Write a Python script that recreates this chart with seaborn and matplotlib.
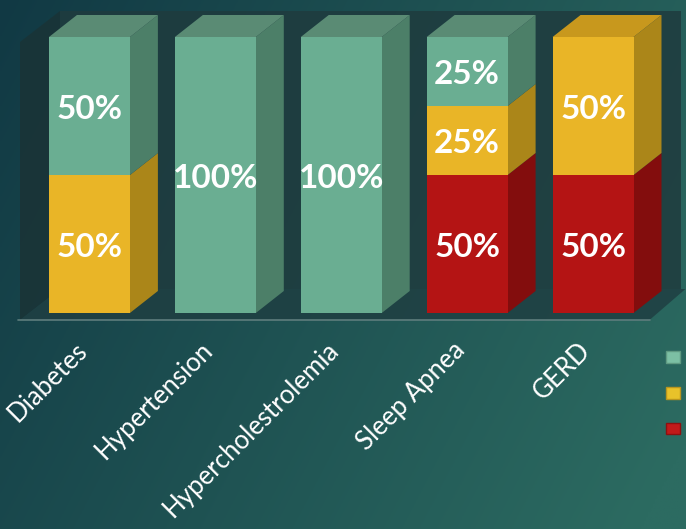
import numpy as np
import matplotlib
matplotlib.use("Agg")
import matplotlib.pyplot as plt
from matplotlib.patches import Polygon, Patch
from matplotlib.transforms import ScaledTranslation
import seaborn as sns

categories = ["Diabetes", "Hypertension", "Hypercholestrolemia", "Sleep Apnea", "GERD"]
green = [50, 100, 100, 25, 0]
yellow = [50, 0, 0, 25, 50]
red = [0, 0, 0, 50, 50]

# series listed bottom -> top
series = [red, yellow, green]
front_cols = ["#b41414", "#e9b527", "#6aae92"]
side_cols = ["#830d0d", "#ab8619", "#4c7f68"]
top_cols = ["#961010", "#c8981d", "#5a8b74"]
legend_face = ["#7cc0a4", "#e8c22a", "#c21a1a"]
legend_edge = ["#5f9a82", "#b8951e", "#8e1010"]

sns.set_theme(style="white")
plt.rcParams["font.family"] = ["Lato", "DejaVu Sans"]

W, H = 686, 529
fig = plt.figure(figsize=(W / 100, H / 100), dpi=100)

# gradient background
bg = fig.add_axes([0, 0, 1, 1], zorder=-10)
gx, gy = np.meshgrid(np.linspace(0, 1, 300), np.linspace(0, 1, 240))
t = np.clip(0.75 * gx + 0.3 * gy, 0, 1)
c0 = np.array([0x11, 0x39, 0x44]) / 255
c1 = np.array([0x2c, 0x6b, 0x61]) / 255
img = c0[None, None, :] * (1 - t[..., None]) + c1[None, None, :] * t[..., None]
bg.imshow(img, aspect="auto", extent=[0, 1, 0, 1], origin="upper")
bg.set_axis_off()

# main axes: x px 26.5..656, y px 313 (0%) .. 37 (100%)
ax = fig.add_axes([26.5 / W, (H - 313) / H, 629.5 / W, 276 / H])
ax.set_facecolor("none")

def px(xp, yp):
    return ((xp - 89.5) / 126.0, (313 - yp) / 2.76)

# walls and floor (decoration)
for pts, col in [
    ([(20, 42), (60, 11), (60, 289), (20, 320)], "#1a3336"),
    ([(60, 11), (682, 11), (682, 289), (60, 289)], "#1f3b3e"),
    ([(20, 320), (60, 289), (686, 289), (650, 320)], "#1f3f42"),
]:
    ax.add_patch(Polygon([px(*p) for p in pts], closed=True, facecolor=col,
                         edgecolor="none", alpha=0.85, clip_on=False, zorder=0))
fx0, fy = px(18, 320)
fx1, _ = px(650, 320)
ax.plot([fx0, fx1], [fy, fy], color="#5e7d7d", lw=1.2, clip_on=False, zorder=1)

width = 81 / 126
cum = np.zeros(len(categories))
tops = []
for s in series:
    cum = cum + np.array(s)
    tops.append(cum.copy())

# front faces: overlay trick, tallest first
for i in reversed(range(len(series))):
    sns.barplot(x=categories, y=list(tops[i]), color=front_cols[i], saturation=1,
                width=width, ax=ax, zorder=3, edgecolor="none")

# 3D depth
dx, dy = 28 / 126, 22 / 2.76
for j, cat in enumerate(categories):
    x0, x1 = j - width / 2, j + width / 2
    base = 0
    top_idx = None
    for i, s in enumerate(series):
        v = s[j]
        if v <= 0:
            continue
        y0, y1 = base, base + v
        ax.add_patch(Polygon([(x1, y0), (x1 + dx, y0 + dy), (x1 + dx, y1 + dy), (x1, y1)],
                             closed=True, facecolor=side_cols[i], edgecolor="none",
                             clip_on=False, zorder=2))
        ax.text(j, (y0 + y1) / 2 - 1.2, f"{v}%", ha="center", va="center", color="white",
                fontsize=24, fontweight="bold", zorder=5)
        base = y1
        top_idx = i
    if top_idx is not None:
        ax.add_patch(Polygon([(x0, base), (x0 + dx, base + dy), (x1 + dx, base + dy), (x1, base)],
                             closed=True, facecolor=top_cols[top_idx], edgecolor="none",
                             clip_on=False, zorder=2))

ax.set_xlim(-0.5, 4.5)
ax.set_ylim(0, 100)
ax.set_yticks([])
ax.set_xlabel("")
ax.set_ylabel("")
for sp in ax.spines.values():
    sp.set_visible(False)
ax.tick_params(axis="x", length=0, pad=24, colors="white")
shift = ScaledTranslation(-6 / 100, 0, fig.dpi_scale_trans)
for lab in ax.get_xticklabels():
    lab.set_rotation(45)
    lab.set_ha("right")
    lab.set_va("center")
    lab.set_rotation_mode("anchor")
    lab.set_fontsize(18.5)
    lab.set_color("white")
    lab.set_transform(lab.get_transform() + shift)

handles = [Patch(facecolor=legend_face[k], edgecolor=legend_edge[k], linewidth=1) for k in range(3)]
leg = fig.legend(handles=handles, labels=["", "", ""], loc="center",
                 bbox_to_anchor=(673 / W, 1 - 393 / H), frameon=False, fontsize=9.4,
                 handlelength=1, handleheight=1, handletextpad=0, labelspacing=1.8,
                 borderpad=0)

fig.savefig("out.png", dpi=100)
